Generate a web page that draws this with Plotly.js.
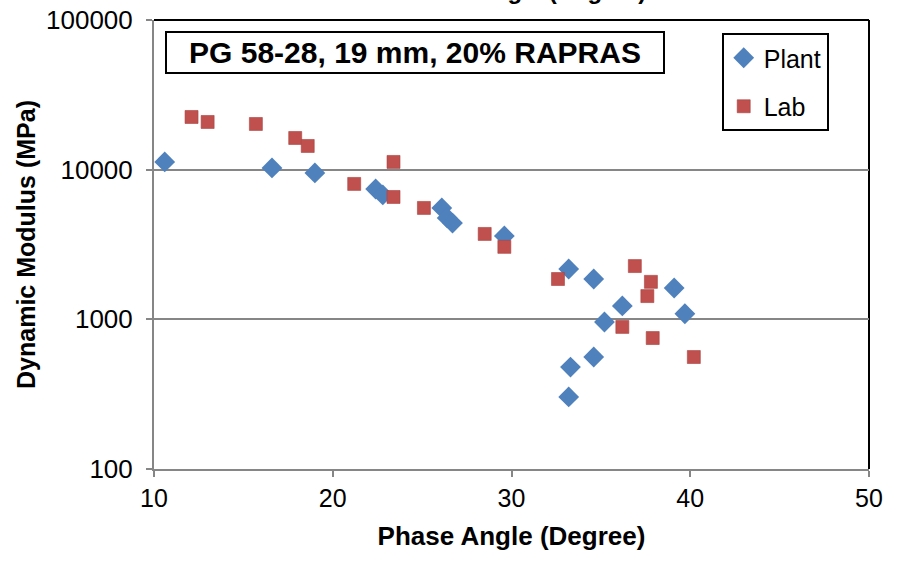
<!DOCTYPE html>
<html>
<head>
<meta charset="utf-8">
<script src="https://cdn.plot.ly/plotly-3.0.1.min.js"></script>
<style>
  html, body { margin: 0; padding: 0; background: #fff; }
  #chart { width: 898px; height: 561px; }
</style>
</head>
<body>
<div id="chart"></div>
<script>
// Plant data (phase angle in degrees, dynamic modulus in MPa)
const plantPhase = [10.6, 16.6, 19.0, 22.4, 22.8, 26.1, 26.4, 26.7, 29.6, 33.2, 34.6, 36.2, 35.2, 39.1, 39.7, 34.6, 33.3, 33.2];
const plantModulus = [11260, 10270, 9510, 7430, 6780, 5550, 4760, 4400, 3610, 2170, 1860, 1230, 960, 1620, 1090, 560, 480, 303];

// Lab data
const labPhase = [12.1, 13.0, 15.7, 17.9, 18.6, 23.4, 21.2, 23.4, 25.1, 28.5, 29.6, 32.6, 36.9, 37.8, 37.6, 36.2, 37.9, 40.2];
const labModulus = [22490, 20830, 20200, 16280, 14400, 11260, 8030, 6570, 5550, 3720, 3050, 1860, 2270, 1780, 1430, 890, 750, 560];

// Axis ticks
const xTicks = [10, 20, 30, 40, 50];
const yTicks = [100, 1000, 10000, 100000];
const yTickText = ["100", "1000", "10000", "100000"];

const seriesNames = ["Plant", "Lab"];
const chartLabel = "PG 58-28, 19 mm, 20% RAPRAS";
const xTitle = "Phase Angle (Degree)";
const yTitle = "Dynamic Modulus (MPa)";

const axisGray = "#868686";
const font = "Arial, 'Liberation Sans', sans-serif";

const traces = [
  {
    x: plantPhase, y: plantModulus, name: seriesNames[0], mode: "markers", type: "scatter",
    legendgroup: "a",
    marker: { symbol: "diamond", size: 16, color: "#4F81BD", line: { width: 0 } }
  },
  {
    x: labPhase, y: labModulus, name: seriesNames[1], mode: "markers", type: "scatter",
    legendgroup: "b",
    marker: { symbol: "square", size: 13, color: "#C0504D", line: { width: 0.6, color: "#A9423F" } }
  }
];

const layout = {
  width: 898, height: 561,
  margin: { l: 154, r: 29, t: 20, b: 92 },
  paper_bgcolor: "#ffffff", plot_bgcolor: "#ffffff",
  font: { family: font, color: "#000000", size: 25 },
  showlegend: true,
  legend: {
    x: 0.794, y: 0.971, xanchor: "left", yanchor: "top",
    bordercolor: "#000000", borderwidth: 2, bgcolor: "#ffffff",
    font: { family: font, size: 25, color: "#000000" },
    traceorder: "grouped", tracegroupgap: 13
  },
  xaxis: {
    range: [10, 50], tickvals: xTicks, ticktext: xTicks.map(String),
    showgrid: false, zeroline: false,
    showline: true, linecolor: axisGray, linewidth: 2,
    ticks: "outside", ticklen: 6, tickwidth: 2, tickcolor: axisGray,
    tickfont: { family: font, size: 25, color: "#000000" },
    title: { text: xTitle, font: { family: font, size: 26, weight: "bold", color: "#000000" }, standoff: 16 }
  },
  yaxis: {
    type: "log", range: [2, 5], tickvals: yTicks, ticktext: yTickText,
    showgrid: true, gridcolor: axisGray, gridwidth: 2, zeroline: false,
    showline: true, linecolor: axisGray, linewidth: 2,
    ticks: "outside", ticklen: 6, tickwidth: 2, tickcolor: axisGray,
    ticklabelstandoff: 8,
    tickfont: { family: font, size: 26, color: "#000000" },
    title: { text: yTitle, font: { family: font, size: 25, weight: "bold", color: "#000000" }, standoff: 3 }
  },
  shapes: [
    { type: "line", xref: "paper", yref: "paper", x0: 0, x1: 1, y0: 1, y1: 1, line: { color: "#000000", width: 2 }, layer: "below" },
    { type: "line", xref: "paper", yref: "paper", x0: 1, x1: 1, y0: 0, y1: 1, line: { color: "#000000", width: 2 }, layer: "below" }
  ],
  annotations: [
    {
      text: "<b>" + chartLabel + "</b>", xref: "paper", yref: "paper",
      x: 0.365, y: 0.9276, xanchor: "center", yanchor: "middle", showarrow: false,
      font: { family: font, size: 30, color: "#000000" },
      bordercolor: "#000000", borderwidth: 2, borderpad: 2, bgcolor: "#ffffff",
      width: 492, height: 35
    },
    {
      text: "<b>" + xTitle + "</b>", xref: "paper", yref: "paper",
      x: 0.515, y: 1.031, xanchor: "center", yanchor: "bottom", showarrow: false,
      font: { family: font, size: 24, color: "#000000" }
    }
  ]
};

Plotly.newPlot("chart", traces, layout, { displayModeBar: false, staticPlot: true });
</script>
</body>
</html>
